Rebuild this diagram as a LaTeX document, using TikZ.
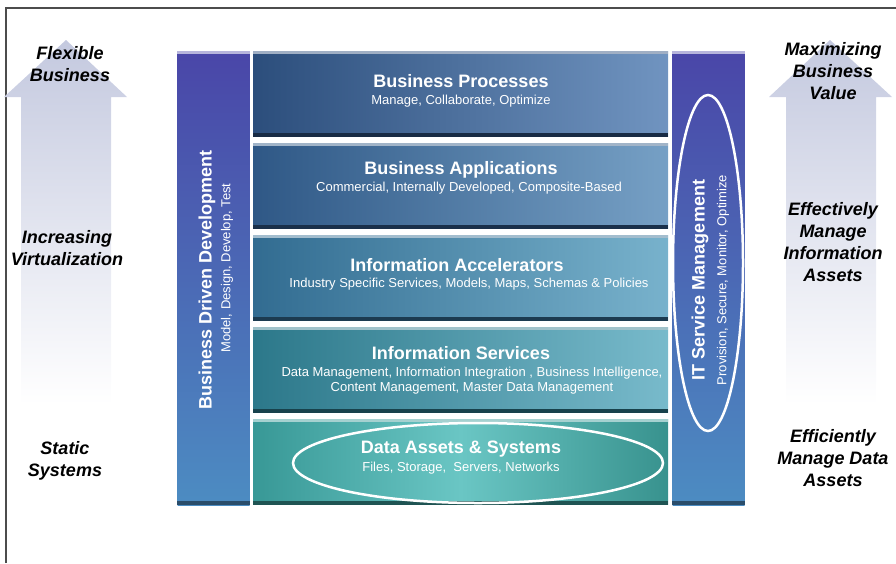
\documentclass[tikz,border=0pt]{standalone}
\usepackage{fontspec}
\setmainfont{Liberation Sans}
\usetikzlibrary{calc}
\definecolor{arrowtop}{RGB}{196,201,223}
\definecolor{barpurple}{RGB}{74,70,168}
\definecolor{barblue}{RGB}{76,140,194}
\definecolor{bpL}{RGB}{44,78,124}\definecolor{bpR}{RGB}{112,148,192}
\definecolor{baL}{RGB}{47,88,134}\definecolor{baR}{RGB}{118,160,197}
\definecolor{iaL}{RGB}{50,108,145}\definecolor{iaR}{RGB}{120,178,204}
\definecolor{isL}{RGB}{44,120,138}\definecolor{isR}{RGB}{120,186,203}
\definecolor{daL}{RGB}{56,152,150}\definecolor{daM}{RGB}{106,198,196}\definecolor{daR}{RGB}{56,146,142}
\tikzset{
  sidetxt/.style={font=\fontsize{18}{22}\selectfont\bfseries\itshape, align=center, inner sep=0pt, text=black},
  ttl/.style={font=\fontsize{18}{21}\selectfont\bfseries, text=white, inner sep=0pt},
  sub/.style={font=\fontsize{13}{15}\selectfont, text=white, inner sep=0pt, align=center},
  layer/.style={draw=none, minimum width=415pt, minimum height=85pt, inner sep=0pt},
  bar/.style={draw=none, minimum width=72pt, minimum height=454pt, inner sep=0pt, top color=barpurple, bottom color=barblue},
  ring/.style={draw=white, line width=2.5pt},
  bigarrow/.style={top color=arrowtop, bottom color=white, draw=none}
}
\begin{document}
\begin{tikzpicture}[x=1pt,y=-1pt]
\useasboundingbox (0,0) rectangle (896,563);
% frame
\draw[line width=1.5pt, color=black!70] (6,563) -- (6,8) -- (896,8);
% arrows
\path[bigarrow] (21,405) -- (21,97) -- (4,97) -- (66,40) -- (127,97) -- (111,97) -- (111,405) -- cycle;
\path[bigarrow] (786,405) -- (786,97) -- (769,97) -- (830,40) -- (892,97) -- (876,97) -- (876,405) -- cycle;
% side bars
\node[bar] (ldev) at (213.5,278) {};
\node[bar] (ritsm) at (708.5,278) {};
\foreach \n in {ldev,ritsm}{
  \fill[white!60!barpurple] (\n.north west) rectangle ($(\n.north east)+(0,3)$);
  \fill[black!45!barblue] ($(\n.south west)+(0,-4)$) rectangle (\n.south east);
}
% layers
\node[layer, left color=bpL, right color=bpR] (bp) at (460.5,94) {};
\node[layer, left color=baL, right color=baR] (ba) at (460.5,186) {};
\node[layer, left color=iaL, right color=iaR] (ia) at (460.5,278) {};
\node[layer, left color=isL, right color=isR] (is) at (460.5,370) {};
\node[layer, left color=daL, right color=daR, middle color=daM] (da) at (460.5,462) {};
\foreach \n/\c in {bp/bpL,ba/baL,ia/iaL,is/isL,da/daL}{
  \fill[white!55!\c] (\n.north west) rectangle ($(\n.north east)+(0,3)$);
  \fill[black!45!\c] ($(\n.south west)+(0,-4)$) rectangle (\n.south east);
}
% ellipses
\draw[ring] (478,463) ellipse [x radius=185, y radius=40];
\draw[ring] (708,263) ellipse [x radius=35, y radius=168];
% layer texts
\node[ttl] (bpt) at (461,81) {Business Processes};
\node[sub] (bps) at (461,101) {Manage, Collaborate, Optimize};
\node[ttl] (bat) at (461,170) {Business Applications};
\node[sub] (bas) at (469,188) {Commercial, Internally Developed, Composite-Based};
\node[ttl] (iat) at (457,265) {Information Accelerators};
\node[sub] (ias) at (469,284) {Industry Specific Services, Models, Maps, Schemas \& Policies};
\node[ttl] (ist) at (461,353) {Information Services};
\node[sub] (iss) at (472,380.5) {Data Management, Information Integration , Business Intelligence,\\Content Management, Master Data Management};
\node[ttl] (dat) at (461,449) {Data Assets \& Systems};
\node[sub] (das) at (461,468) {Files, Storage,\ \ Servers, Networks};
% bar texts
\node[ttl, rotate=90] (ldt) at (207,280) {Business Driven Development};
\node[sub, rotate=90] (lds) at (227,268) {Model, Design, Develop, Test};
\node[ttl, rotate=90] (rit) at (700,280) {IT Service Management};
\node[sub, rotate=90] (ris) at (723,280) {Provision, Secure, Monitor, Optimize};
% side texts
\node[sidetxt] (fb) at (70,64) {Flexible\\Business};
\node[sidetxt] (iv) at (67,248) {Increasing\\Virtualization};
\node[sidetxt] (ss) at (65,461) {Static\\Systems};
\node[sidetxt] (mbv) at (833,71) {Maximizing\\Business\\Value};
\node[sidetxt] (emi) at (833,242) {Effectively\\Manage\\Information\\Assets};
\node[sidetxt] (emd) at (833,458) {Efficiently\\Manage Data\\Assets};
\end{tikzpicture}
\end{document}
